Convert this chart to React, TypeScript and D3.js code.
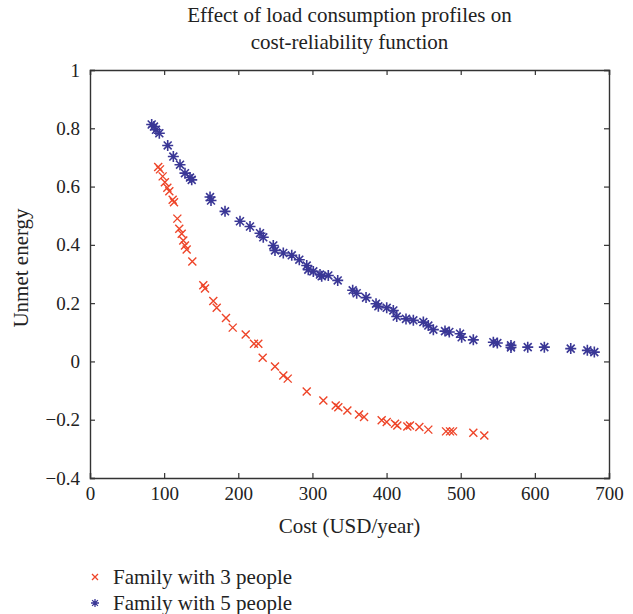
import React, { useEffect, useRef } from "react";
import * as d3 from "d3";

// Family with 3 people: [cost, unmet energy]
const family3: [number, number][] = [
  [92, 0.667], [94.4, 0.659], [98, 0.635], [101, 0.615], [104.3, 0.596],
  [107, 0.584], [111.5, 0.555], [113.3, 0.546], [117.8, 0.49], [120.4, 0.455],
  [123.7, 0.438], [125.8, 0.415], [128.1, 0.398], [130.4, 0.384], [138, 0.343],
  [152.8, 0.261], [155.1, 0.25], [166.3, 0.207], [170.9, 0.184], [183.4, 0.149],
  [192.5, 0.116], [210, 0.092], [221.2, 0.061], [227, 0.061], [232.9, 0.013],
  [249.5, -0.017], [260.7, -0.048], [266.7, -0.059], [292.3, -0.103], [314.7, -0.134],
  [331.4, -0.151], [334.9, -0.157], [347.1, -0.168], [362.8, -0.182], [369.6, -0.191],
  [393.4, -0.202], [400.2, -0.208], [411.4, -0.214], [414.5, -0.22], [428, -0.223],
  [431.6, -0.22], [444.2, -0.225], [456.3, -0.234], [480.2, -0.24], [485.6, -0.24],
  [489.6, -0.24], [517, -0.245], [531.8, -0.254],
];

// Family with 5 people: [cost, unmet energy]
const family5: [number, number][] = [
  [83.2, 0.813], [86.3, 0.806], [89, 0.795], [93.5, 0.783], [104.8, 0.741],
  [112.4, 0.703], [121.4, 0.675], [128.1, 0.646], [134.9, 0.631], [137.2, 0.623],
  [161.9, 0.564], [163.2, 0.552], [182.1, 0.515], [202.3, 0.481], [215.8, 0.463],
  [229.3, 0.44], [233.7, 0.426], [247.2, 0.398], [249.5, 0.381], [260.7, 0.372],
  [272.1, 0.364], [282.3, 0.349], [292.3, 0.329], [294.4, 0.315], [301.2, 0.309],
  [310.2, 0.298], [312.5, 0.292], [321.4, 0.295], [334.1, 0.278], [354.3, 0.244],
  [359.7, 0.234], [372.3, 0.219], [385.8, 0.198], [388.9, 0.189], [400.2, 0.184],
  [409.1, 0.175], [413.7, 0.154], [426.2, 0.146], [436.1, 0.141], [449.6, 0.135],
  [456.3, 0.123], [463.1, 0.109], [478.8, 0.104], [484.6, 0.101], [499.1, 0.095],
  [501.3, 0.083], [517, 0.074], [544, 0.066], [549.4, 0.063], [567.8, 0.055],
  [567.8, 0.048], [590.4, 0.049], [612.8, 0.049], [648.4, 0.044], [670.8, 0.038],
  [680.2, 0.032],
];

const xTicks = [0, 100, 200, 300, 400, 500, 600, 700];
const yTicks = [-0.4, -0.2, 0, 0.2, 0.4, 0.6, 0.8, 1];
const titleLines = ["Effect of load consumption profiles on", "cost-reliability function"];
const legendLabels = ["Family with 3 people", "Family with 5 people"];

const RED = "#ee4428";
const BLUE = "#3a3796";
const FONT = "'Liberation Serif', 'DejaVu Serif', serif";

const App = () => {
  const svgRef = useRef<SVGSVGElement>(null);

  useEffect(() => {
    document.body.style.margin = "0";
    drawChart();
  }, []);

  const drawChart = () => {
    const margin = { top: 70, right: 24, bottom: 136, left: 90 };
    const W = 633;
    const H = 614;
    const width = W - margin.left - margin.right;
    const height = H - margin.top - margin.bottom;

    const root = d3.select(svgRef.current).attr("width", W).attr("height", H);
    root.selectAll("*").remove();
    const svg = root.append("g").attr("transform", `translate(${margin.left},${margin.top})`);

    const x = d3.scaleLinear().domain([0, 700]).range([0, width]);
    const y = d3.scaleLinear().domain([-0.4, 1]).range([height, 0]);

    const fmt = (d: number) => (d < 0 ? "\u2212" + Math.abs(d) : String(d));

    // axes with inward ticks
    const bottom = svg.append("g").attr("transform", `translate(0,${height})`)
      .call(d3.axisBottom(x).tickValues(xTicks).tickSize(-5).tickPadding(9).tickFormat((d) => fmt(+d)));
    const left = svg.append("g")
      .call(d3.axisLeft(y).tickValues(yTicks).tickSize(-5).tickPadding(10).tickFormat((d) => fmt(+d)));
    const top = svg.append("g")
      .call(d3.axisTop(x).tickValues(xTicks).tickSize(-5).tickFormat(() => ""));
    const right = svg.append("g").attr("transform", `translate(${width},0)`)
      .call(d3.axisRight(y).tickValues(yTicks).tickSize(-5).tickFormat(() => ""));

    [bottom, left, top, right].forEach((g) => {
      g.select(".domain").attr("stroke", "#333").attr("stroke-width", 1.4);
      g.selectAll(".tick line").attr("stroke", "#333").attr("stroke-width", 1.2);
      g.selectAll(".tick text").attr("fill", "#222").style("font-family", FONT).style("font-size", "19px");
    });

    const crossPath = (s: number) => `M${-s},${-s}L${s},${s}M${-s},${s}L${s},${-s}`;
    const starPath = (s: number) => {
      const d = s * 0.72;
      return `M0,${-s}L0,${s}M${-s},0L${s},0M${-d},${-d}L${d},${d}M${-d},${d}L${d},${-d}`;
    };

    svg.append("g").selectAll("path").data(family5).enter().append("path")
      .attr("transform", (d) => `translate(${x(d[0])},${y(d[1])})`)
      .attr("d", starPath(5.5))
      .attr("fill", "none").attr("stroke", BLUE).attr("stroke-width", 1.6);

    svg.append("g").selectAll("path").data(family3).enter().append("path")
      .attr("transform", (d) => `translate(${x(d[0])},${y(d[1])})`)
      .attr("d", crossPath(4))
      .attr("fill", "none").attr("stroke", RED).attr("stroke-width", 1.4);

    // Title
    svg.append("g").selectAll("text").data(titleLines).enter().append("text")
      .attr("x", width / 2)
      .attr("y", (d, i) => -48 + i * 27)
      .attr("text-anchor", "middle")
      .style("font-family", FONT).style("font-size", "21px").attr("fill", "#222")
      .text((d) => d);

    // X-axis label
    svg.append("text")
      .attr("x", width / 2).attr("y", height + 55)
      .attr("text-anchor", "middle")
      .style("font-family", FONT).style("font-size", "21px").attr("fill", "#222")
      .text("Cost (USD/year)");

    // Y-axis label
    svg.append("text")
      .attr("transform", "rotate(-90)")
      .attr("x", -height / 2 + 6).attr("y", -62)
      .attr("text-anchor", "middle")
      .style("font-family", FONT).style("font-size", "21px").attr("fill", "#222")
      .text("Unmet energy");

    // Legend
    const legend = root.append("g").attr("transform", "translate(95,577)");
    legendLabels.forEach((lab, i) => {
      const g = legend.append("g").attr("transform", `translate(0,${i * 26})`);
      g.append("path")
        .attr("d", i === 0 ? crossPath(3) : starPath(4))
        .attr("fill", "none").attr("stroke", i === 0 ? RED : BLUE).attr("stroke-width", 1.3);
      g.append("text").attr("x", 18).attr("y", 7)
        .style("font-family", FONT).style("font-size", "21px").attr("fill", "#222")
        .text(lab);
    });
  };

  return <svg ref={svgRef}></svg>;
};

export default App;
